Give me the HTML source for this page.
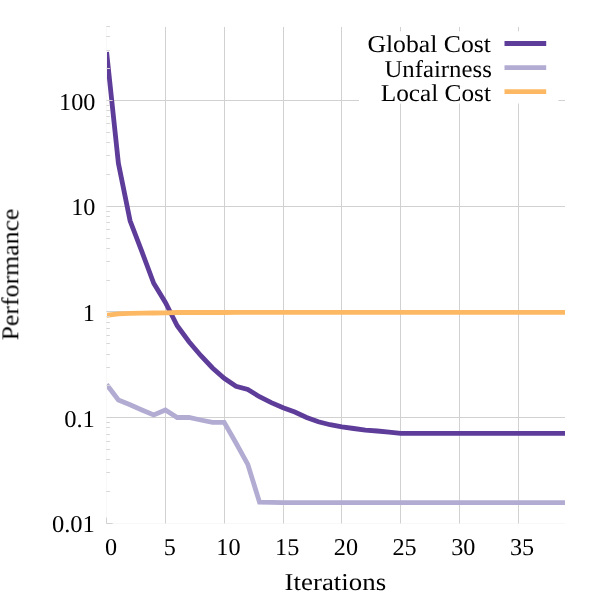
<!DOCTYPE html>
<html lang="en"><head><meta charset="utf-8"><title>Performance vs Iterations</title>
<style>html,body{margin:0;padding:0;background:#fff}svg{display:block}text{font-family:"Liberation Serif",serif;font-size:24.2px;fill:#000;text-rendering:geometricPrecision}.n{font-size:24.2px}</style></head><body>
<svg width="600" height="600" viewBox="0 0 600 600">
<rect width="600" height="600" fill="#fff"/>
<defs><clipPath id="c"><rect x="107" y="26.6" width="458" height="496.8"/></clipPath></defs>
<path d="M165.5 26.6V523.4M224.5 26.6V523.4M283.5 26.6V523.4M341.5 26.6V523.4M400.5 26.6V523.4M459.5 26.6V523.4M518.5 26.6V523.4M106.6 100.5H565.3M106.6 206.5H565.3M106.6 311.5H565.3M106.6 417.5H565.3" stroke="#d1d1d1" stroke-width="1" fill="none" shape-rendering="crispEdges"/>
<path d="M106.5 26.6V523.4M106.6 523.5H565.3" stroke="#f8f8f8" stroke-width="1" fill="none" shape-rendering="crispEdges"/>
<g clip-path="url(#c)" fill="none" stroke-width="4.8" stroke-linejoin="miter" stroke-linecap="butt">
<polyline stroke="#5e3c99" points="106.6,52.0 118.4,163.3 130.1,220.8 141.9,251.7 153.7,283.3 165.4,302.5 177.2,325.8 189.0,341.7 200.7,355.5 212.5,368.0 224.2,378.3 236.0,386.3 247.8,389.5 259.5,396.7 271.3,402.6 283.1,407.7 294.8,412.0 306.6,417.5 318.4,421.7 330.1,424.7 341.9,426.8 353.7,428.5 365.4,430.1 377.2,431.0 389.0,432.2 400.7,433.3 412.5,433.3 424.3,433.3 436.0,433.3 447.8,433.3 459.6,433.3 471.3,433.3 483.1,433.3 494.8,433.3 506.6,433.3 518.4,433.3 530.1,433.3 541.9,433.3 553.7,433.3 565.4,433.3"/>
<polyline stroke="#b2abd2" points="106.6,384.5 118.4,400.0 130.1,404.7 141.9,410.0 153.7,415.0 165.4,410.0 177.2,417.5 189.0,417.5 200.7,420.0 212.5,422.4 224.2,422.4 236.0,443.0 247.8,464.4 259.5,502.2 271.3,502.4 283.1,502.6 294.8,502.7 306.6,502.7 318.4,502.7 330.1,502.7 341.9,502.7 353.7,502.7 365.4,502.7 377.2,502.7 389.0,502.7 400.7,502.7 412.5,502.7 424.3,502.7 436.0,502.7 447.8,502.7 459.6,502.7 471.3,502.7 483.1,502.7 494.8,502.7 506.6,502.7 518.4,502.7 530.1,502.7 541.9,502.7 553.7,502.7 565.4,502.7"/>
<polyline stroke="#fdb863" points="106.6,315.3 118.4,313.9 130.1,313.4 141.9,313.1 153.7,313.0 165.4,312.9 177.2,312.5 189.0,312.5 200.7,312.5 212.5,312.5 224.2,312.5 236.0,312.4 247.8,312.4 259.5,312.4 271.3,312.4 283.1,312.4 294.8,312.4 306.6,312.4 318.4,312.4 330.1,312.4 341.9,312.4 353.7,312.4 365.4,312.4 377.2,312.4 389.0,312.4 400.7,312.4 412.5,312.4 424.3,312.4 436.0,312.4 447.8,312.4 459.6,312.4 471.3,312.4 483.1,312.4 494.8,312.4 506.6,312.4 518.4,312.4 530.1,312.4 541.9,312.4 553.7,312.4 565.4,312.4"/>
</g>
<g fill="#d1d1d1"><rect x="106" y="517.5" width="1" height="6"/><rect x="165" y="517.5" width="1" height="6"/><rect x="224" y="517.5" width="1" height="6"/><rect x="283" y="517.5" width="1" height="6"/><rect x="341" y="517.5" width="1" height="6"/><rect x="400" y="517.5" width="1" height="6"/><rect x="459" y="517.5" width="1" height="6"/><rect x="518" y="517.5" width="1" height="6"/><rect x="106.4" y="100" width="6.2" height="1"/><rect x="106.4" y="206" width="6.2" height="1"/><rect x="106.4" y="311" width="6.2" height="1"/><rect x="106.4" y="417" width="6.2" height="1"/><rect x="106.4" y="523" width="6.2" height="1"/></g>
<g fill="#d6d6d6"><rect x="106.4" y="491" width="3.5" height="1"/><rect x="106.4" y="472" width="3.5" height="1"/><rect x="106.4" y="459" width="3.5" height="1"/><rect x="106.4" y="449" width="3.5" height="1"/><rect x="106.4" y="441" width="3.5" height="1"/><rect x="106.4" y="434" width="3.5" height="1"/><rect x="106.4" y="427" width="3.5" height="1"/><rect x="106.4" y="422" width="3.5" height="1"/><rect x="106.4" y="385" width="3.5" height="1"/><rect x="106.4" y="367" width="3.5" height="1"/><rect x="106.4" y="354" width="3.5" height="1"/><rect x="106.4" y="343" width="3.5" height="1"/><rect x="106.4" y="335" width="3.5" height="1"/><rect x="106.4" y="328" width="3.5" height="1"/><rect x="106.4" y="322" width="3.5" height="1"/><rect x="106.4" y="316" width="3.5" height="1"/><rect x="106.4" y="280" width="3.5" height="1"/><rect x="106.4" y="261" width="3.5" height="1"/><rect x="106.4" y="248" width="3.5" height="1"/><rect x="106.4" y="238" width="3.5" height="1"/><rect x="106.4" y="229" width="3.5" height="1"/><rect x="106.4" y="222" width="3.5" height="1"/><rect x="106.4" y="216" width="3.5" height="1"/><rect x="106.4" y="211" width="3.5" height="1"/><rect x="106.4" y="174" width="3.5" height="1"/><rect x="106.4" y="155" width="3.5" height="1"/><rect x="106.4" y="142" width="3.5" height="1"/><rect x="106.4" y="132" width="3.5" height="1"/><rect x="106.4" y="123" width="3.5" height="1"/><rect x="106.4" y="116" width="3.5" height="1"/><rect x="106.4" y="110" width="3.5" height="1"/><rect x="106.4" y="105" width="3.5" height="1"/><rect x="106.4" y="68" width="3.5" height="1"/><rect x="106.4" y="50" width="3.5" height="1"/><rect x="106.4" y="36" width="3.5" height="1"/><rect x="106.4" y="26" width="3.5" height="1"/></g>
<rect x="359" y="31.3" width="199.4" height="72.2" fill="#fff"/>
<g opacity="0.999">
<line x1="504.5" x2="546.2" y1="43.5" y2="43.5" stroke="#5e3c99" stroke-width="4.8"/>
<line x1="504.5" x2="546.2" y1="67.6" y2="67.6" stroke="#b2abd2" stroke-width="4.8"/>
<line x1="504.5" x2="546.2" y1="91.6" y2="91.6" stroke="#fdb863" stroke-width="4.8"/>
<text x="367.4" y="52.3" textLength="123.6" lengthAdjust="spacingAndGlyphs">Global Cost</text>
<text x="384.4" y="76.5" textLength="107.4" lengthAdjust="spacingAndGlyphs">Unfairness</text>
<text x="380.7" y="100.6" textLength="110.3" lengthAdjust="spacingAndGlyphs">Local Cost</text>
<text x="95.4" y="109.5" text-anchor="end" class="n">100</text>
<text x="95.4" y="215.2" text-anchor="end" class="n">10</text>
<text x="94.9" y="320.9" text-anchor="end" class="n">1</text>
<text x="94.9" y="426.6" text-anchor="end" class="n" textLength="30.7" lengthAdjust="spacingAndGlyphs">0.1</text>
<text x="94.9" y="532.4" text-anchor="end" class="n" textLength="43.0" lengthAdjust="spacingAndGlyphs">0.01</text>
<text x="111.0" y="554.5" text-anchor="middle" class="n">0</text>
<text x="169.7" y="554.5" text-anchor="middle" class="n">5</text>
<text x="228.4" y="554.5" text-anchor="middle" class="n">10</text>
<text x="287.2" y="554.5" text-anchor="middle" class="n">15</text>
<text x="345.9" y="554.5" text-anchor="middle" class="n">20</text>
<text x="404.6" y="554.5" text-anchor="middle" class="n">25</text>
<text x="463.3" y="554.5" text-anchor="middle" class="n">30</text>
<text x="522.1" y="554.5" text-anchor="middle" class="n">35</text>
<text x="284.6" y="590.1" textLength="101.5" lengthAdjust="spacingAndGlyphs">Iterations</text>
<text transform="translate(18.3 340.4) rotate(-90)" x="0" y="0" textLength="131.8" lengthAdjust="spacingAndGlyphs">Performance</text>
</g>
</svg></body></html>
